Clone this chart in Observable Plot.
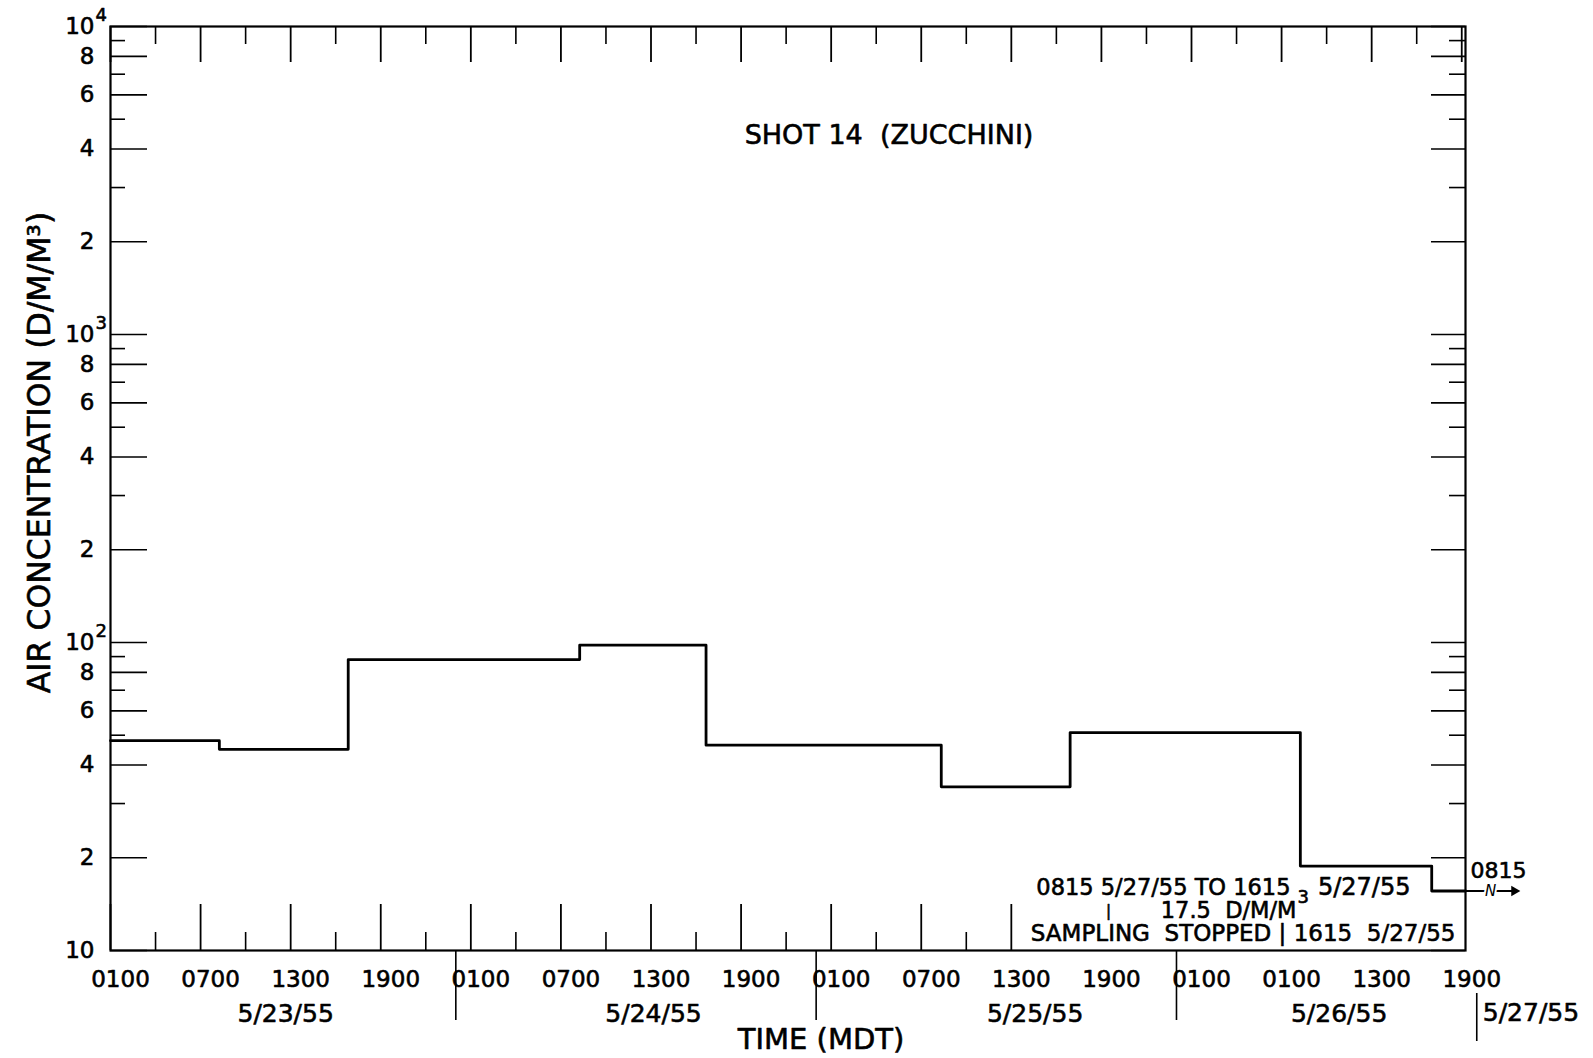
<!DOCTYPE html>
<html><head><meta charset="utf-8">
<script src="https://cdn.jsdelivr.net/npm/d3@7"></script>
<script src="https://cdn.jsdelivr.net/npm/@observablehq/plot@0.6"></script>
<style>
html,body{margin:0;padding:0;background:#fff;}
#chart svg{display:block;}
</style>
</head><body><div id="chart"></div>
<script>
// ---------- data ----------
// sampling interval start times (MDT) and measured air concentration (d/m/m^3)
const sampleStarts = ["1955-05-23T01:00", "1955-05-23T08:15", "1955-05-23T16:50", "1955-05-24T08:15",
  "1955-05-24T16:40", "1955-05-25T08:20", "1955-05-25T16:55", "1955-05-26T08:15", "1955-05-26T17:00"];
const concentrations = [48, 45, 88, 98, 46.4, 34, 51, 18.8, 15.6];
const lastSampleEnd = "1955-05-26T19:15";      // last interval runs off the chart
const continuationEnd = "1955-05-26T22:30";    // arrow tip beyond the frame
const zigzagAt = "1955-05-26T20:55";

const xDomain = ["1955-05-23T01:00", "1955-05-26T19:15"];
const yDomain = [10, 10000];
const bottomTicksEnd = "1955-05-25T13:00";     // bottom ticks stop where the note begins

// x tick labels
const hourLabelTimes = ["1955-05-23T01:00","1955-05-23T07:00","1955-05-23T13:00","1955-05-23T19:00",
  "1955-05-24T01:00","1955-05-24T07:00","1955-05-24T13:00","1955-05-24T19:00",
  "1955-05-25T01:00","1955-05-25T07:00","1955-05-25T13:00","1955-05-25T19:00",
  "1955-05-26T01:00","1955-05-26T07:00","1955-05-26T13:00","1955-05-26T19:00"];
const hourLabels = ["0100","0700","1300","1900","0100","0700","1300","1900",
  "0100","0700","1300","1900","0100","0100","1300","1900"];
const dateLabelTimes = ["1955-05-23T12:40","1955-05-24T13:10","1955-05-25T14:35","1955-05-26T10:50"];
const dateLabels = ["5/23/55","5/24/55","5/25/55","5/26/55"];
const daySeparators = ["1955-05-24T00:00","1955-05-25T00:00","1955-05-26T00:00"];
const endSeparator = "1955-05-26T20:00";
const endDateLabel = "5/27/55";

// y tick labels
const yLabelValues = [10, 20, 40, 60, 80, 100, 200, 400, 600, 800, 1000, 2000, 4000, 6000, 8000, 10000];
const yLabelText   = ["10","2","4","6","8","10","2","4","6","8","10","2","4","6","8","10"];
const yExpValues = [100, 1000, 10000];
const yExpText = ["2","3","4"];

const title = "SHOT 14  (ZUCCHINI)";
const xTitle = "TIME (MDT)";
const yTitle = "AIR CONCENTRATION (D/M/M³)";
const note1a = "0815 5/27/55 TO 1615";
const note1b = "5/27/55";
const note2 = "17.5  D/M/M";
const note3 = "SAMPLING  STOPPED | 1615  5/27/55";
const resumeLabel = "0815";

// ---------- build ----------
const T = s => new Date(s + ":00Z");
const W = 1593, H = 1058, mL = 110, mR = 128, mT = 26, mB = 108;
const fw = W - mL - mR, fh = H - mT - mB;

const steps = sampleStarts.map((s, i) => ({t: T(s), v: concentrations[i]}));
steps.push({t: T(lastSampleEnd), v: concentrations[concentrations.length - 1]});

const x0 = T(xDomain[0]).getTime();
const tickTimes = d3.range(0, 91, 3).map(h => ({t: new Date(x0 + h * 3600e3), major: h % 6 === 0}));
const majorX = tickTimes.filter(d => d.major).map(d => d.t);
const minorX = tickTimes.filter(d => !d.major).map(d => d.t);
const bEnd = T(bottomTicksEnd);
const majorXb = majorX.filter(d => d <= bEnd);
const minorXb = minorX.filter(d => d <= bEnd);

const yAll = [];
for (const dec of [10, 100, 1000]) for (let k = 1; k <= 9; k++) yAll.push({v: dec * k, long: [1,2,4,6,8].includes(k)});
yAll.push({v: 10000, long: true});
const yLong = yAll.filter(d => d.long).map(d => d.v);
const yShort = yAll.filter(d => !d.long).map(d => d.v);

const ink = {fill: "black", stroke: "black", strokeWidth: 0.6};
const lastV = concentrations[concentrations.length - 1];
const chart = Plot.plot({
  width: W, height: H,
  marginLeft: mL, marginRight: mR, marginTop: mT, marginBottom: mB,
  x: {type: "utc", domain: xDomain.map(T), axis: null},
  y: {type: "log", domain: yDomain, axis: null},
  style: {fontFamily: "'DejaVu Sans', sans-serif", fontSize: "22px", background: "white", color: "black", overflow: "visible"},
  marks: [
    // x ticks: bottom (upward) and top (downward)
    Plot.tickX(majorXb, {x: d => d, insetTop: fh - 46, strokeWidth: 1.8}),
    Plot.tickX(minorXb, {x: d => d, insetTop: fh - 18, strokeWidth: 1.6}),
    Plot.tickX(majorX, {x: d => d, insetBottom: fh - 36, strokeWidth: 1.8}),
    Plot.tickX(minorX, {x: d => d, insetBottom: fh - 18, strokeWidth: 1.6}),
    // y ticks: left and right
    Plot.tickY(yLong, {y: d => d, insetRight: fw - 37, strokeWidth: 1.6}),
    Plot.tickY(yShort, {y: d => d, insetRight: fw - 15, strokeWidth: 1.6}),
    Plot.tickY(yLong, {y: d => d, insetLeft: fw - 34, strokeWidth: 1.6}),
    Plot.tickY(yShort, {y: d => d, insetLeft: fw - 16, strokeWidth: 1.6}),
    Plot.frame({stroke: "black", strokeWidth: 2.2}),
    // day separators below axis
    Plot.tickX(daySeparators.map(T), {x: d => d, insetTop: fh, insetBottom: -70, strokeWidth: 1.6}),
    Plot.tickX([T(endSeparator)], {x: d => d, insetTop: fh + 43, insetBottom: -91, strokeWidth: 1.6}),
    // x labels
    Plot.text(hourLabels, {x: (d, i) => T(hourLabelTimes[i]), text: d => d, frameAnchor: "bottom", textAnchor: "middle", lineAnchor: "middle", dx: 10, dy: 29, fontSize: 23, ...ink}),
    Plot.text(dateLabels, {x: (d, i) => T(dateLabelTimes[i]), text: d => d, frameAnchor: "bottom", textAnchor: "middle", lineAnchor: "middle", dy: 63, fontSize: 25, ...ink}),
    Plot.text([endDateLabel], {x: () => T(endSeparator), text: d => d, frameAnchor: "bottom", lineAnchor: "middle", textAnchor: "start", dx: 6, dy: 62, fontSize: 25, ...ink}),
    Plot.text([xTitle], {text: d => d, frameAnchor: "bottom", textAnchor: "middle", lineAnchor: "middle", dx: 33, dy: 89, fontSize: 29, ...ink}),
    // y labels
    Plot.text(yLabelText, {y: (d, i) => yLabelValues[i], text: d => d, frameAnchor: "left", textAnchor: "end", lineAnchor: "middle", dx: -16, fontSize: 23, ...ink}),
    Plot.text(yExpText, {y: (d, i) => yExpValues[i], text: d => d, frameAnchor: "left", textAnchor: "start", lineAnchor: "middle", dx: -15, dy: -11, fontSize: 18, ...ink}),
    Plot.text([yTitle], {text: d => d, frameAnchor: "left", textAnchor: "middle", rotate: -90, lineAnchor: "middle", dx: -71, dy: -36, fontSize: 31.5, ...ink}),
    // title
    Plot.text([title], {text: d => d, frameAnchor: "top", textAnchor: "middle", lineAnchor: "middle", dx: 101, dy: 109, fontSize: 27, ...ink}),
    // data: step line
    Plot.line(steps, {x: "t", y: "v", curve: "step-after", stroke: "black", strokeWidth: 2.8}),
    // continuation off the chart
    Plot.link([0], {x1: () => T(lastSampleEnd), x2: () => T(continuationEnd), y1: () => lastV, y2: () => lastV, stroke: "black", strokeWidth: 2}),
    Plot.dot([0], {x: () => T(continuationEnd), y: () => lastV, symbol: "triangle2", rotate: 90, r: 5, fill: "black", stroke: null}),
    Plot.text([0], {x: () => T(zigzagAt), y: () => lastV, text: () => "N", fontStyle: "italic", fontSize: 15, stroke: "white", strokeWidth: 4, paintOrder: "stroke", fill: "black", lineAnchor: "middle", textAnchor: "middle"}),
    Plot.text([resumeLabel], {text: d => d, frameAnchor: "bottom-right", textAnchor: "start", lineAnchor: "middle", dx: 5, dy: -80, fontSize: 22, ...ink}),
    // annotations
    Plot.text([note1a], {text: d => d, frameAnchor: "bottom-right", textAnchor: "end", lineAnchor: "middle", dx: -175, dy: -63, fontSize: 22.5, ...ink}),
    Plot.text([note1b], {text: d => d, frameAnchor: "bottom-right", textAnchor: "end", lineAnchor: "middle", dx: -55, dy: -63, fontSize: 24, ...ink}),
    Plot.text([note2], {text: d => d, frameAnchor: "bottom-right", textAnchor: "end", lineAnchor: "middle", dx: -169, dy: -40, fontSize: 22.5, ...ink}),
    Plot.text(["3"], {text: d => d, frameAnchor: "bottom-right", textAnchor: "start", lineAnchor: "middle", dx: -168, dy: -53, fontSize: 18, ...ink}),
    Plot.text(["|"], {text: d => d, frameAnchor: "bottom-right", textAnchor: "middle", lineAnchor: "middle", dx: -357, dy: -39, fontSize: 15, ...ink}),
    Plot.text([note3], {text: d => d, frameAnchor: "bottom-right", textAnchor: "end", lineAnchor: "middle", dx: -10, dy: -17, fontSize: 23, ...ink})
  ]
});
document.getElementById("chart").appendChild(chart);
</script>
</body></html>
